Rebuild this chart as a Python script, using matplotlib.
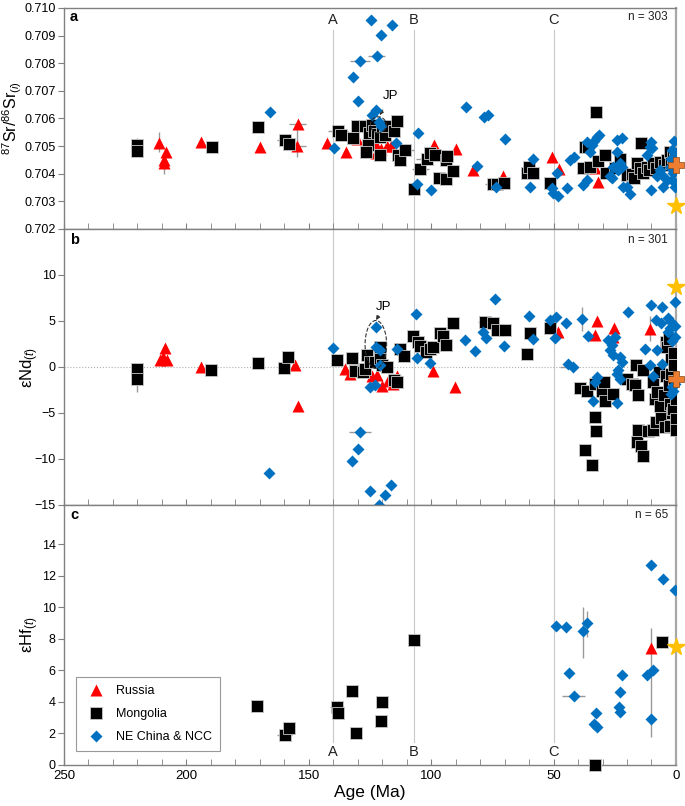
import matplotlib
matplotlib.use('Agg')
import matplotlib.pyplot as plt
from matplotlib.patches import Ellipse
from matplotlib.ticker import MultipleLocator

plt.rcParams['font.family'] = ['Liberation Sans', 'DejaVu Sans']
plt.rcParams['mathtext.fontset'] = 'custom'
plt.rcParams['mathtext.rm'] = 'Liberation Sans'
plt.rcParams['mathtext.it'] = 'Liberation Sans:italic'

# ---- panel a: 87Sr/86Sr(i) ----
ru_sr_age = [211, 208.5, 209, 209, 194, 170, 155, 154.3, 142.4, 134.8, 130.5, 123, 122.5, 118, 116.6,
             98.7, 89.9, 82.8, 70.8, 50.6, 47.7, 33.1, 31.9, 120.5]
ru_sr = [0.70512, 0.70480, 0.70450, 0.70440, 0.70516, 0.70498, 0.70502, 0.70579, 0.70510, 0.70480,
         0.70525, 0.70510, 0.70474, 0.70500, 0.70502, 0.70504, 0.70489, 0.70414, 0.70392, 0.70462,
         0.70418, 0.70420, 0.70371, 0.70490]

mo_sr_age = [220, 220, 189.5, 170.6, 159.7, 158, 137.9, 137, 132.1, 130.5,
             127, 125.4, 124, 123.5, 122, 120.9, 120.2, 119, 118.5, 115.2,
             114.1, 125.7, 126.6, 120.9, 113.5, 112.7, 110.7, 107, 104.6, 101.9,
             100.5, 98.4, 96.7, 94, 94, 93.7, 91, 74.6, 73.3, 70.2,
             60.9, 60.2, 58.3, 51.5, 37.9, 37.2, 35.8, 35.1, 32.8, 31.8,
             29, 28.6, 25, 22.9, 20.2, 18, 17, 16.1, 14.7, 14.4,
             13.4, 12, 11, 9.3, 8, 6.5, 5, 3.8, 2.5, 2,
             1.1, 0.5]
mo_sr = [0.70505, 0.70482, 0.70498, 0.70570, 0.70522, 0.70507, 0.70553, 0.70540, 0.70529, 0.70571,
         0.70573, 0.70549, 0.70575, 0.70555, 0.70545, 0.70534, 0.70571, 0.70540, 0.70574, 0.70553,
         0.70592, 0.70504, 0.70480, 0.70468, 0.70468, 0.70450, 0.70486, 0.70344, 0.70416, 0.70452,
         0.70474, 0.70468, 0.70386, 0.70380, 0.70450, 0.70464, 0.70411, 0.70362, 0.70362, 0.70366,
         0.70402, 0.70423, 0.70402, 0.70366, 0.70420, 0.70498, 0.70498, 0.70424, 0.70623, 0.70446,
         0.70468, 0.70402, 0.70420, 0.70453, 0.70396, 0.70400, 0.70385, 0.70438, 0.70420, 0.70510,
         0.70402, 0.70426, 0.70415, 0.70438, 0.70420, 0.70444, 0.70430, 0.70450, 0.70480, 0.70440,
         0.70462, 0.70475]

cn_sr_age = [165.8, 139.7, 124.7, 115.9, 120.6, 122.3, 129, 131.8, 129.8, 122.5,
             124.3, 121.2, 120.6, 114.4, 105.3, 105.9, 100.1, 85.8, 78.4, 76.9,
             81.4, 73.5, 70, 59.6, 58.3, 50.8, 50.1, 48.7, 48, 44.7,
             43.3, 41.7, 37.9, 36.2, 36.5, 35.1, 34.5, 33.4, 32.4, 31.3,
             26.9, 26.3, 25.6, 24.2, 24.2, 23.6, 22.9, 22.2, 22.2, 21.5,
             20.2, 18.8, 12, 10.6, 10, 9.6, 10, 7.9, 6.5, 5.9,
             5.2, 3.8, 2.5, 1.8, 1.8, 1.1, 0.8, 0.4, 0.4, 0.4, 2.2]
cn_sr = [0.70624, 0.70492, 0.70955, 0.70937, 0.70902, 0.70827, 0.70808, 0.70750, 0.70665, 0.70631,
         0.70613, 0.70589, 0.70571, 0.70513, 0.70547, 0.70363, 0.70341, 0.70643, 0.70605, 0.70611,
         0.70429, 0.70351, 0.70525, 0.70351, 0.70454, 0.70347, 0.70329, 0.70404, 0.70320, 0.70350,
         0.70450, 0.70460, 0.70359, 0.70378, 0.70516, 0.70480, 0.70504, 0.70520, 0.70534, 0.70541,
         0.70390, 0.70384, 0.70426, 0.70522, 0.70480, 0.70414, 0.70438, 0.70529, 0.70426, 0.70353,
         0.70351, 0.70327, 0.70468, 0.70498, 0.70516, 0.70492, 0.70341, 0.70390, 0.70414, 0.70396,
         0.70353, 0.70378, 0.70426, 0.70486, 0.70378, 0.70402, 0.70519, 0.70474, 0.70353, 0.70440, 0.70455]

# ---- panel b: eNd(t) ----
ru_nd_age = [210.8, 209.4, 208.7, 208, 194.2, 155.6, 154.6, 135.2, 133.2, 124.3, 122.3, 120.2,
             117.5, 115.5, 114.1, 99.1, 90.3, 48, 32.4, 33.1, 25.2, 25.6, 10.6]
ru_nd = [0.71, 1.1, 2.1, 0.71, 0.0, 0.24, -4.2, -0.2, -0.75, -0.93, -0.82, -2.1,
         -1.5, -1.85, -0.93, -0.4, -2.2, 3.8, 5.0, 3.5, 4.2, 3.3, 4.1]

mo_nd_age = [220, 220, 190, 170.9, 160, 158.4, 138.6, 132.2, 131.1, 128,
             127, 126.4, 125, 123, 120.9, 120.9, 120.2, 118.2, 115.2, 114.1,
             112.7, 111.1, 107.3, 105.3, 104.6, 102.1, 100.5, 99.1, 96.4, 95.1,
             94, 91, 78, 74.9, 73.3, 70, 61, 59.6, 51.5, 39.2,
             37.2, 36.5, 34.2, 33.1, 33.1, 32.8, 30.4, 29.4, 29, 25.6,
             20.2, 18.1, 16.7, 16.3, 16.1, 15.4, 15.4, 14.1, 13.4, 13.4,
             11.3, 9.3, 9.3, 8.6, 8, 7.9, 7, 6.5, 6, 5,
             4.5, 4.2, 4, 3.5, 3, 3, 2.5, 2.5, 2.1, 2.1,
             1.5, 1.1, 1, 1, 0.8, 0.5, 0, 0, 0]
mo_nd = [-0.2, -1.3, -0.38, 0.44, -0.15, 1.1, 0.8, 0.98, -0.49, -0.5,
         -0.2, 1.34, 0.53, 0.5, 1.0, 2.2, 0.16, 0.0, -1.37, -1.6,
         2.0, 1.2, 3.35, 2.73, 2.3, 1.63, 2.0, 2.18, 3.64, 3.35,
         2.36, 4.74, 4.9, 4.8, 4.0, 4.0, 1.45, 3.64, 4.2, -2.3,
         -9.0, -2.6, -10.7, -1.85, -5.4, -7.0, -2.6, -1.65, -3.7, -2.9,
         -1.3, -1.85, -2.0, 0.18, -8.2, -3.05, -6.8, -8.6, -0.37, -9.7,
         -7.0, -1.65, -6.8, -3.5, -6.0, -2.75, -0.5, -4.2, -5.5, -3.0,
         -6.5, 2.7, -1.0, 2.2, -2.0, 3.0, -6.4, -4.0, 0.9, -0.75,
         -5.0, -4.6, -1.5, 1.5, 0.2, -2.5, -3.5, -5.7, -6.8]

cn_nd_age = [166.1, 140.2, 132.2, 130, 129.1, 125, 125, 123, 122.5, 122.5,
             121.2, 120.9, 120.9, 118.9, 116.6, 114.1, 106.2, 105.6, 100.5, 86.2,
             81.9, 78.7, 77.4, 73.9, 70.3, 60.2, 58.4, 51.5, 49.4, 48.8,
             45, 44, 42, 38.5, 35.8, 33.8, 33.1, 32.4, 27.7, 27,
             26.3, 25.6, 25, 24.2, 24.2, 23.6, 22.9, 22.9, 22.2, 19.5,
             12.7, 10.6, 10, 9.3, 8, 7.9, 6, 5.9, 5.6, 3.2,
             3.2, 2.5, 2.1, 1.9, 1.8, 1.5, 1.1, 0.5, 0.5, 0.4, 0.4]
cn_nd = [-11.5, 2.1, -10.2, -8.9, -7.07, -2.2, -13.5, -2.0, 4.3, 2.18,
         -15.0, 1.8, 0.26, -13.9, -12.8, 2.0, 5.72, 1.0, 0.4, 2.9,
         1.7, 3.8, 3.1, 7.4, 2.3, 5.5, 3.0, 5.1, 3.2, 5.4,
         4.74, 0.35, 0.0, 5.2, 3.4, -3.7, -1.65, -1.1, 2.9, 1.8,
         2.36, 1.26, 3.3, -3.9, -0.75, -0.38, 1.1, -1.3, 0.5, 5.94,
         2.0, 0.2, 6.74, -0.93, 5.1, 1.8, 4.74, 0.35, 6.57, 5.3,
         3.8, 4.2, -2.9, 4.9, -2.2, 2.8, -2.6, 4.5, -1.8, 7.1, 3.3]

# ---- panel c: eHf(t) ----
ru_hf_age = [10.2]
ru_hf = [7.43]
mo_hf_age = [171, 159.7, 158, 138.6, 138.2, 132.2, 130.8, 120.6, 120.2, 107, 33.1, 5.8]
mo_hf = [3.76, 1.91, 2.34, 3.71, 3.29, 4.67, 2.0, 2.82, 3.97, 7.91, 0.0, 7.81]
cn_hf_age = [49, 44.9, 43.6, 41.7, 38.1, 36.2, 33.3, 32.8, 32.4, 22.9,
             23.2, 22.9, 21.9, 12, 9.5, 10, 10, 5.2, 0.4]
cn_hf = [8.85, 8.74, 5.84, 4.39, 8.49, 9.02, 2.59, 3.29, 2.38, 4.6,
         3.71, 3.39, 5.73, 5.73, 6.05, 2.93, 12.67, 11.82, 11.1]

# reference values at 0 Ma (star and cross)
star_sr, cross_sr = 0.70283, 0.70432
star_nd, cross_nd = 8.65, -1.3
star_hf = 7.47

# error bars: vertical (age, low, high), horizontal (value, age low, age high)
verr_a = [(220, 0.7047, 0.7053), (211, 0.7048, 0.7055), (209, 0.7040, 0.7046), (155, 0.7046, 0.7057),
          (194, 0.7050, 0.7053)]
herr_a = [(0.70522, 157, 163), (0.70502, 151, 158), (0.70579, 151, 158), (0.70808, 125, 133),
          (0.70827, 119, 126), (0.70553, 134, 142), (0.70486, 107, 114), (0.70452, 98, 106),
          (0.70362, 71, 78), (0.70464, 91, 97), (0.70416, 101, 108), (0.70366, 68, 74)]
verr_b = [(220, -2.7, 0), (38.5, 3.9, 6.5), (10.6, 2.8, 5.5)]
herr_b = [(-7.07, 124.5, 133.5), (0.0, 40, 47.5), (4.9, 74, 81), (-0.93, 112, 117)]
verr_c = [(38.1, 6.8, 10.0), (36.2, 8.1, 9.8), (10.2, 1.8, 8.7)]
herr_c = [(4.39, 37.2, 46.4), (3.71, 136, 141.5), (1.91, 157, 163)]

events = [140, 107, 50]
event_names = ['A', 'B', 'C']

ru = dict(marker='^', color='#ff0000', ms=8.5, ls='none', mec='none')
mo = dict(marker='s', color='black', ms=8, ls='none', mec='#c8c8c8', mew=0.6)
cn = dict(marker='D', color='#0070c0', ms=5.8, ls='none', mec='none')
grey = '#808080'

fig = plt.figure(figsize=(6.85, 8.06), dpi=100)
ax_a = fig.add_axes([0.0934, 0.7159, 0.8934, 0.2742])
ax_b = fig.add_axes([0.0934, 0.3735, 0.8934, 0.3424])
ax_c = fig.add_axes([0.0934, 0.0509, 0.8934, 0.3226])

for ax, verr, herr in [(ax_a, verr_a, herr_a), (ax_b, verr_b, herr_b), (ax_c, verr_c, herr_c)]:
    ax.set_xlim(250, 0)
    ax.xaxis.set_major_locator(MultipleLocator(50))
    ax.xaxis.set_minor_locator(MultipleLocator(10))
    ax.tick_params(axis='x', which='both', direction='in', length=4, color=grey, labelsize=9.5)
    ax.tick_params(axis='y', direction='out', length=4, color=grey, labelsize=9, pad=2)
    for s in ax.spines.values():
        s.set_color(grey)
        s.set_linewidth(1)
    ax.spines['right'].set_color('#a8a8a8')
    ax.spines['right'].set_linewidth(1.6)
    for x, lo, hi in verr:
        ax.vlines(x, lo, hi, color='#999999', lw=1, zorder=1)
    for y, lo, hi in herr:
        ax.hlines(y, lo, hi, color='#999999', lw=1, zorder=1)

ax_a.tick_params(axis='x', labelbottom=False)
ax_b.tick_params(axis='x', labelbottom=False)

# vertical event lines
for e, name in zip(events, event_names):
    ax_a.axvline(e, ymax=0.90, color='#c8c8c8', lw=0.8, zorder=0)
    ax_b.axvline(e, color='#c8c8c8', lw=0.8, zorder=0)
    ax_c.axvline(e, ymin=0.09, color='#c8c8c8', lw=0.8, zorder=0)
    ax_a.text(e, 0.945, name, transform=ax_a.get_xaxis_transform(), ha='center', va='center', fontsize=10.5, color='#222222')
    ax_c.text(e, 0.05, name, transform=ax_c.get_xaxis_transform(), ha='center', va='center', fontsize=10.5, color='#222222')

# panel a
ax_a.plot(ru_sr_age, ru_sr, zorder=2, **ru)
ax_a.plot(mo_sr_age, mo_sr, zorder=3, **mo)
ax_a.plot(cn_sr_age, cn_sr, zorder=4, **cn)
ax_a.plot(0, star_sr, marker='*', color='#ffc000', ms=13, ls='none', zorder=6, clip_on=False)
ax_a.plot(0, cross_sr, marker='P', color='#ed7d31', mec='#8a4a1a', mew=0.5, ms=11, ls='none', zorder=6, clip_on=False)
ax_a.set_ylim(0.702, 0.710)
ax_a.yaxis.set_major_locator(MultipleLocator(0.001))
ax_a.yaxis.set_major_formatter(matplotlib.ticker.FormatStrFormatter('%.3f'))
ax_a.set_ylabel(r'$^{87}$Sr/$^{86}$Sr$_{(i)}$', fontsize=11.5)
ax_a.yaxis.set_label_coords(-0.066, 0.5)
ax_a.add_patch(Ellipse((121.6, 0.70577), 6.5, 0.00058, fill=False, ls='--', lw=0.8, color='#333333', zorder=5))
ax_a.annotate('JP', xy=(121, 0.70612), xytext=(116.5, 0.70680), fontsize=9.5, ha='center', va='center',
              arrowprops=dict(arrowstyle='-|>', color='#333333', lw=0.7, mutation_scale=6, shrinkA=4, shrinkB=0))

# panel b
ax_b.axhline(0, color='#b0b0b0', lw=0.8, ls=':', zorder=0)
ax_b.plot(ru_nd_age, ru_nd, zorder=2, **ru)
ax_b.plot(mo_nd_age, mo_nd, zorder=3, **mo)
ax_b.plot(cn_nd_age, cn_nd, zorder=4, clip_on=False, **cn)
ax_b.plot(0, star_nd, marker='*', color='#ffc000', ms=13, ls='none', zorder=6, clip_on=False)
ax_b.plot(0, cross_nd, marker='P', color='#ed7d31', mec='#8a4a1a', mew=0.5, ms=11, ls='none', zorder=6, clip_on=False)
ax_b.set_ylim(-15, 15)
ax_b.set_yticks([-15, -10, -5, 0, 5, 10])
ax_b.set_ylabel(r'εNd$_{(t)}$', fontsize=12)
ax_b.yaxis.set_label_coords(-0.038, 0.5)
ax_b.add_patch(Ellipse((122.6, 2.45), 8.8, 5.2, fill=False, ls='--', lw=0.8, color='#333333', zorder=5))
ax_b.annotate('JP', xy=(122.5, 5.1), xytext=(119.3, 6.5), fontsize=9.5, ha='center', va='center',
              arrowprops=dict(arrowstyle='-|>', color='#333333', lw=0.7, mutation_scale=6, shrinkA=4, shrinkB=0))

# panel c
ax_c.plot(ru_hf_age, ru_hf, zorder=2, label='Russia', **ru)
ax_c.plot(mo_hf_age, mo_hf, zorder=3, label='Mongolia', clip_on=False, **mo)
ax_c.plot(cn_hf_age, cn_hf, zorder=4, label='NE China & NCC', **cn)
ax_c.plot(0, star_hf, marker='*', color='#ffc000', ms=13, ls='none', zorder=6, clip_on=False)
ax_c.set_ylim(0, 16.5)
ax_c.set_yticks(range(0, 16, 2))
ax_c.set_ylabel(r'εHf$_{(t)}$', fontsize=12)
ax_c.yaxis.set_label_coords(-0.038, 0.5)
ax_c.set_xlabel('Age (Ma)', fontsize=12.5, labelpad=2)
leg = ax_c.legend(loc='lower left', bbox_to_anchor=(0.01, 0.03), fontsize=9, frameon=True, fancybox=False,
                  edgecolor=grey, handletextpad=0.6, borderpad=0.6, labelspacing=0.9)
leg.get_frame().set_linewidth(0.8)

for ax, lab, n in [(ax_a, 'a', 'n = 303'), (ax_b, 'b', 'n = 301'), (ax_c, 'c', 'n = 65')]:
    ax.text(0.01, 0.96, lab, transform=ax.transAxes, fontsize=10.5, fontweight='bold', va='center')
    ax.text(0.987, 0.96, n, transform=ax.transAxes, fontsize=8.5, ha='right', va='center', color='#222222')

fig.savefig('out.png', dpi=100)
